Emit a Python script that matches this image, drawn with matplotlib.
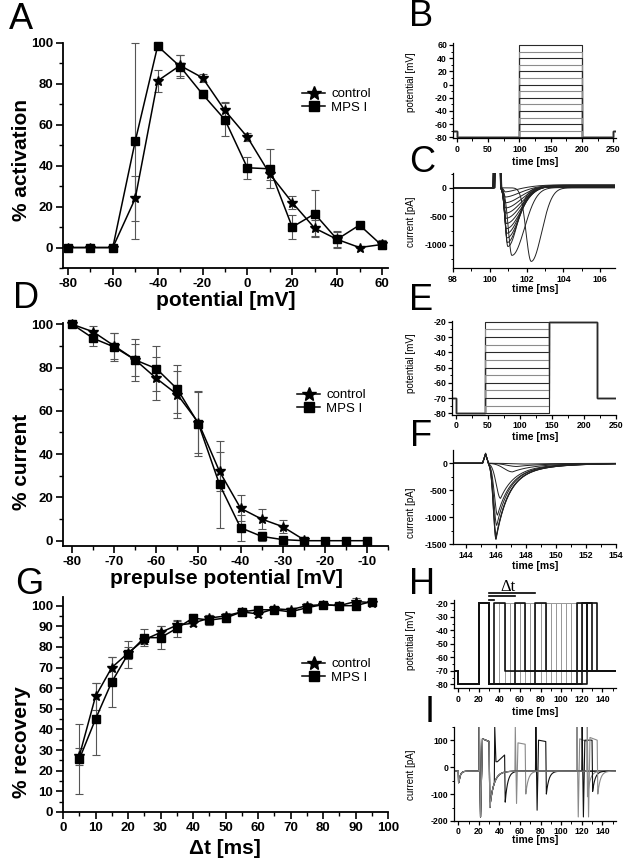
import numpy as np
import matplotlib
matplotlib.use('Agg')
import matplotlib.pyplot as plt
from matplotlib.ticker import MultipleLocator

plt.rcParams['font.family'] = ['Liberation Sans', 'DejaVu Sans']
plt.rcParams['font.weight'] = 'bold'
plt.rcParams['axes.unicode_minus'] = False

# ---------------- data: panel A (activation) ----------------
A_v = [-80, -70, -60, -50, -40, -30, -20, -10, 0, 10, 20, 30, 40, 50, 60]
A_ctrl = [0, 0, 0, 24, 81.5, 89, 83, 67, 54, 36, 22, 9.5, 4, 0, 1.5]
A_ctrl_err = [0, 0, 0, 11, 5.5, 5, 2, 4, 2, 3, 3, 4, 3.5, 0, 2]
A_mps = [0, 0, 0, 52, 98.5, 88.5, 75, 62.5, 39, 38.5, 10, 16.5, 4, 11, 1]
A_mps_err = [0, 0, 0, 48, 0, 5.5, 2, 8, 5.5, 9.5, 6, 11.5, 4, 0, 1]

# ---------------- data: panel D (inactivation) ----------------
D_v_ctrl = [-80, -75, -70, -65, -60, -55, -50, -45, -40, -35, -30, -25]
D_ctrl = [100, 96.5, 90, 83.5, 75, 67.5, 54.5, 32, 15, 10, 6.5, 0.5]
D_ctrl_err = [0, 2.5, 6, 9.5, 10, 11, 14, 9, 6, 4.5, 3, 1]
D_v_mps = [-80, -75, -70, -65, -60, -55, -50, -45, -40, -35, -30, -25, -20, -15, -10]
D_mps = [100, 93.5, 89.5, 83.5, 79.5, 70, 54, 26, 6, 2, 0.5, 0, 0, 0, 0]
D_mps_err = [0, 3.5, 6.5, 7.5, 10.5, 11, 15, 20, 6, 2, 1, 0, 0, 0, 0]

# ---------------- data: panel G (recovery) ----------------
G_t = [5, 10, 15, 20, 25, 30, 35, 40, 45, 50, 55, 60, 65, 70, 75, 80, 85, 90, 95]
G_ctrl = [27, 56, 70, 77, 83.5, 87, 90.5, 91.5, 94, 95, 97, 96, 98.5, 98, 100, 100.5, 100, 102, 101.5]
G_ctrl_err = [4, 6.5, 5, 3, 2, 3, 2, 1.5, 1.5, 1.5, 1, 1.5, 1, 1, 1, 1, 1, 1.5, 1]
G_mps = [25.5, 45, 63, 76.5, 84.5, 84.5, 89, 94, 93, 94, 97, 98, 98, 97, 99, 100.5, 100, 100, 102]
G_mps_err = [17, 17.5, 12, 6.5, 4, 5.5, 4, 2, 2.5, 2, 1, 1.5, 1, 1, 2.5, 1, 1, 1, 1]

# ---------------- protocol B ----------------
B_levels = [60, 50, 40, 30, 20, 10, 0, -10, -20, -30, -40, -50, -60, -70, -80]
B_hold, B_base = -70, -80
B_times = [0, 100, 200, 250]

# ---------------- currents C ----------------
C_onset = [101.45, 100.65, 100.6, 100.6, 100.6, 100.6, 100.6, 100.6, 100.6, 100.6, 100.6, 100.6, 100.6, 100.6]
C_peak_t = [102.25, 101.2, 100.98, 100.95, 100.93, 100.92, 100.9, 100.9, 100.88, 100.87, 100.86, 100.85, 100.85, 100.85]
C_peak_amp = [-1290, -1185, -1030, -960, -880, -800, -720, -630, -540, -450, -360, -270, -170, -80]
C_return = [104.0, 103.3, 102.6, 102.8, 103.0, 103.1, 103.3, 103.4, 103.5, 103.6, 103.7, 103.8, 103.9, 104.0]
C_late = [0, 4, 8, 12, 16, 20, 24, 28, 32, 36, 40, 44, 48, 52]

# ---------------- protocol E ----------------
E_levels = [-20, -25, -30, -35, -40, -45, -50, -55, -60, -65, -70, -75, -80]
E_times = [0, 45, 145, 220]
E_hold, E_base, E_test = -70, -80, -20

# ---------------- currents F ----------------
F_peak_t = [146.0, 146.0, 146.02, 146.05, 146.1, 146.3, 147.1, 147.4, 148.0]
F_peak_amp = [-1410, -1385, -1340, -1150, -960, -650, -160, -60, -15]
F_tau = [0.8, 0.8, 0.8, 0.8, 0.85, 0.9, 1.3, 1.6, 2.0]

# ---------------- protocol H ----------------
H_dt = [5, 10, 15, 20, 25, 30, 35, 40, 45, 50, 55, 60, 65, 70, 75, 80, 85, 90, 95]
H_dark = [5, 25, 45, 85, 90, 95]
H_hold, H_base, H_step = -70, -80, -20
H_pre = [20, 30]
H_test_len = 10

# ---------------- currents I ----------------
I_dt = [5, 25, 45, 85, 90, 95]
I_on_dip = [20, -135, -160, -185, -185, -185]
I_plat0 = [20, 90, 100, 105, 100, 110]
I_plat1 = [45, 85, 95, 95, 100, 100]
I_off = [-130, -100, -100, -110, -90, -100]
I_base = -15

W, H = 629, 868
fig = plt.figure(figsize=(W / 100, H / 100), dpi=100)


def add_ax(l, t, r, b):
    return fig.add_axes([l / W, 1 - b / H, (r - l) / W, (b - t) / H])


def ftext(x, y, s, **kw):
    fig.text(x / W, 1 - y / H, s, **kw)


def style_main(ax):
    for s in ['top', 'right']:
        ax.spines[s].set_visible(False)
    for s in ['left', 'bottom']:
        ax.spines[s].set_linewidth(1.3)
    ax.tick_params(which='major', direction='out', length=5, width=1.2, labelsize=9.5, pad=2)
    ax.tick_params(which='minor', direction='out', length=3, width=1.0)


def style_small(ax):
    for s in ['top', 'right']:
        ax.spines[s].set_visible(False)
    for s in ['left', 'bottom']:
        ax.spines[s].set_linewidth(0.9)
    ax.tick_params(which='major', direction='out', length=3, width=0.9, labelsize=6.3, pad=1.5)
    ax.tick_params(which='minor', direction='out', length=1.8, width=0.7)


def main_plot(ax, xc, yc, ec, xm, ym, em):
    ax.errorbar(xc, yc, yerr=ec, fmt='none', ecolor='#555555', elinewidth=0.8,
                capsize=3, capthick=0.8, zorder=1, clip_on=False)
    ax.errorbar(xm, ym, yerr=em, fmt='none', ecolor='#555555', elinewidth=0.8,
                capsize=3, capthick=0.8, zorder=1, clip_on=False)
    lc, = ax.plot(xc, yc, '-', color='k', lw=1.1, marker='*', ms=7.5, zorder=3, clip_on=False)
    lm, = ax.plot(xm, ym, '-', color='k', lw=1.1, marker='s', ms=5.2, zorder=4, clip_on=False)
    return lc, lm


def legend(ax, lc, lm, x, y):
    ax.legend([lc, lm], ['control', 'MPS I'], loc='upper left',
              bbox_to_anchor=(x / W, 1 - y / H), bbox_transform=fig.transFigure,
              frameon=False, borderpad=0, borderaxespad=0, handlelength=1.75,
              handletextpad=0.45, labelspacing=0.1, markerscale=1.4,
              prop={'weight': 'normal', 'size': 9.5})


# ================= Panel A =================
axA = add_ax(63, 43, 388, 268)
style_main(axA)
lc, lm = main_plot(axA, A_v, A_ctrl, A_ctrl_err, A_v, A_mps, A_mps_err)
axA.set_xlim(-82.2, 62.7)
axA.set_ylim(-10, 100)
axA.xaxis.set_major_locator(MultipleLocator(20))
axA.xaxis.set_minor_locator(MultipleLocator(10))
axA.yaxis.set_major_locator(MultipleLocator(20))
axA.yaxis.set_minor_locator(MultipleLocator(10))
legend(axA, lc, lm, 302, 88)
ftext(226, 300, 'potential [mV]', fontsize=15, ha='center', va='center')
ftext(22, 160, '% activation', fontsize=15, ha='center', va='center', rotation=90)

# ================= Panel D =================
axD = add_ax(63, 323, 388, 546)
style_main(axD)
lc, lm = main_plot(axD, D_v_ctrl, D_ctrl, D_ctrl_err, D_v_mps, D_mps, D_mps_err)
axD.set_xlim(-82.2, -4.96)
axD.set_ylim(-2.45, 100.6)
axD.xaxis.set_major_locator(MultipleLocator(10))
axD.xaxis.set_minor_locator(MultipleLocator(5))
axD.yaxis.set_major_locator(MultipleLocator(20))
axD.yaxis.set_minor_locator(MultipleLocator(10))
legend(axD, lc, lm, 297, 389)
ftext(226, 579, 'prepulse potential [mV]', fontsize=15, ha='center', va='center')
ftext(22, 462, '% current', fontsize=15, ha='center', va='center', rotation=90)

# ================= Panel G =================
axG = add_ax(63, 597, 388, 812)
style_main(axG)
lc, lm = main_plot(axG, G_t, G_ctrl, G_ctrl_err, G_t, G_mps, G_mps_err)
axG.set_xlim(0, 100)
axG.set_ylim(0, 104.2)
axG.xaxis.set_major_locator(MultipleLocator(10))
axG.xaxis.set_minor_locator(MultipleLocator(5))
axG.yaxis.set_major_locator(MultipleLocator(10))
axG.yaxis.set_minor_locator(MultipleLocator(5))
legend(axG, lc, lm, 302, 658)
ftext(225, 848, '\u0394t [ms]', fontsize=15, ha='center', va='center')
ftext(22, 742, '% recovery', fontsize=15, ha='center', va='center', rotation=90)

cols = ['#2a2a2a', '#8c8c8c']
YLX = 411  # x position of small-panel y labels

# ================= Panel B =================
axB = add_ax(453.3, 43.3, 615.7, 138.3)
style_small(axB)
xl0, xl1 = -5.3, 253.8
for i, lv in enumerate(B_levels):
    t0, t1, t2, t3 = B_times
    xs = [xl0, t0, t0, t1, t1, t2, t2, t3, t3, xl1]
    ys = [B_hold, B_hold, B_base, B_base, lv, lv, B_base, B_base, B_hold, B_hold]
    axB.plot(xs, ys, color=cols[i % 2], lw=0.8)
axB.set_xlim(xl0, xl1)
axB.set_ylim(-81.5, 62.5)
axB.xaxis.set_major_locator(MultipleLocator(50))
axB.xaxis.set_minor_locator(MultipleLocator(25))
axB.yaxis.set_major_locator(MultipleLocator(20))
axB.yaxis.set_minor_locator(MultipleLocator(10))
ftext(535, 162, 'time [ms]', fontsize=7.5, ha='center', va='center')
ftext(YLX, 82, 'potential [mV]', fontsize=7, ha='center', va='center', rotation=90, weight='normal')

# ================= Panel C =================
axC = add_ax(453, 173, 615, 268.3)
style_small(axC)
tC = np.linspace(98, 107, 2701)
for i in range(len(C_peak_t)):
    tp, amp, on, ret = C_peak_t[i], C_peak_amp[i], C_onset[i], C_return[i]
    sr = (tp - on) / 2.0
    sd = (ret - tp) / 2.2
    y = np.where(tC < tp, amp * np.exp(-((tC - tp) / sr) ** 2), amp * np.exp(-((tC - tp) / sd) ** 2))
    y = y + C_late[i] / (1 + np.exp(-(tC - (tp + 0.4)) / 0.25))
    a0 = 100.15 + 0.01 * i
    a1 = 100.58 + 0.005 * i
    art = np.clip(np.minimum((tC - a0) / 0.05, (a1 - tC) / 0.05), 0, 1) * 600
    y = y + art
    axC.plot(tC, y, color='#222222', lw=0.7)
axC.set_xlim(98, 106.8)
axC.set_ylim(-1411, 260)
axC.xaxis.set_major_locator(MultipleLocator(2))
axC.xaxis.set_minor_locator(MultipleLocator(1))
axC.yaxis.set_major_locator(MultipleLocator(500))
axC.yaxis.set_minor_locator(MultipleLocator(250))
ftext(535, 289, 'time [ms]', fontsize=7.5, ha='center', va='center')
ftext(YLX, 222, 'current [pA]', fontsize=7, ha='center', va='center', rotation=90, weight='normal')

# ================= Panel E =================
axE = add_ax(452.3, 321, 615.7, 415)
style_small(axE)
xl0, xl1 = -5.8, 250
for i, lv in enumerate(E_levels):
    t0, t1, t2, t3 = E_times
    xs = [xl0, t0, t0, t1, t1, t2, t2, t3, t3, xl1]
    ys = [E_hold, E_hold, E_base, E_base, lv, lv, E_test, E_test, E_hold, E_hold]
    axE.plot(xs, ys, color=cols[i % 2], lw=0.8)
axE.set_xlim(xl0, xl1)
axE.set_ylim(-81.1, -19.5)
axE.xaxis.set_major_locator(MultipleLocator(50))
axE.xaxis.set_minor_locator(MultipleLocator(25))
axE.yaxis.set_major_locator(MultipleLocator(10))
axE.yaxis.set_minor_locator(MultipleLocator(5))
ftext(535, 437, 'time [ms]', fontsize=7.5, ha='center', va='center')
ftext(YLX, 363, 'potential [mV]', fontsize=7, ha='center', va='center', rotation=90, weight='normal')

# ================= Panel F =================
axF = add_ax(453.3, 450, 616, 544.3)
style_small(axF)
tF = np.linspace(143.15, 154, 3001)
for i in range(len(F_peak_t)):
    tp, amp, tau = F_peak_t[i], F_peak_amp[i], F_tau[i]
    sr = (tp - 145.5) / 2.0
    dtp = tF - tp
    y = np.where(tF < tp, amp * np.exp(-(dtp / sr) ** 2),
                 amp * (0.8 * np.exp(-np.clip(dtp, 0, None) / tau) + 0.2 * np.exp(-np.clip(dtp, 0, None) / (3 * tau))))
    art = np.clip(np.minimum((tF - 145.1) / 0.2, (145.5 - tF) / 0.2), 0, 1) * (190 - 4 * i)
    y = y + art
    axF.plot(tF, y, color='#222222', lw=0.7)
axF.set_xlim(143.15, 154)
axF.set_ylim(-1500, 245)
axF.xaxis.set_major_locator(MultipleLocator(2))
axF.xaxis.set_minor_locator(MultipleLocator(1))
axF.yaxis.set_major_locator(MultipleLocator(500))
axF.yaxis.set_minor_locator(MultipleLocator(250))
ftext(535, 566, 'time [ms]', fontsize=7.5, ha='center', va='center')
ftext(YLX, 513, 'current [pA]', fontsize=7, ha='center', va='center', rotation=90, weight='normal')

# ================= Panel H =================
axH = add_ax(454.3, 600, 615.7, 688.3)
style_small(axH)
xl0, xl1 = -3.9, 153
order = [d for d in H_dt if d not in H_dark] + H_dark
for d in order:
    p0, p1 = H_pre
    ta = p1 + d
    tb = ta + H_test_len
    xs = [xl0, 0, 0, p0, p0, p1, p1, ta, ta, tb, tb, xl1]
    ys = [H_hold, H_hold, H_base, H_base, H_step, H_step, H_base, H_base, H_step, H_step, H_hold, H_hold]
    dark = d in H_dark
    axH.plot(xs, ys, color='#111111' if dark else '#9a9a9a', lw=1.2 if dark else 0.7)
axH.set_xlim(xl0, xl1)
axH.set_ylim(-83, -17.5)
axH.xaxis.set_major_locator(MultipleLocator(20))
axH.xaxis.set_minor_locator(MultipleLocator(10))
axH.yaxis.set_major_locator(MultipleLocator(10))
axH.yaxis.set_minor_locator(MultipleLocator(5))
# delta-t annotation
for x_end, yv in [(75, -12.6), (55, -14.4), (35, -17.6)]:
    axH.plot([H_pre[1], x_end], [yv, yv], color='k', lw=1.2, clip_on=False)
ftext(508, 587, '\u0394t', fontsize=12, ha='center', va='center',
      family=['Liberation Serif', 'DejaVu Serif'], weight='normal')
ftext(535, 712, 'time [ms]', fontsize=7.5, ha='center', va='center')
ftext(YLX, 640, 'potential [mV]', fontsize=7, ha='center', va='center', rotation=90, weight='normal')

# ================= Panel I =================
axI = add_ax(454.3, 726.7, 615.7, 821)
style_small(axI)
for i, d in enumerate(I_dt):
    ts, ys = [], []
    t0 = np.linspace(-4, 20, 500)
    y0 = np.where(t0 >= 0, I_base - 60 * np.exp(-np.clip(t0, 0, None) / 1.5) * (1 - np.exp(-np.clip(t0, 0, None) / 0.15)), I_base)
    ts += list(t0); ys += list(y0)
    ts += [20.0, 20.4, 21.6, 23.5, 30.0, 30.6]
    ys += [I_base, 150, -185, 105, 95, -150]
    ta = 30 + d
    t1 = np.linspace(30.6, ta, 200)
    y1 = I_base + (-150 - I_base) * np.exp(-(t1 - 30.6) / 4.0)
    ts += list(t1); ys += list(y1)
    tb = ta + 10
    ts += [ta + 0.4, ta + 1.6, ta + 3.0, tb, tb + 0.6]
    ys += [150, I_on_dip[i], I_plat0[i], I_plat1[i], I_off[i]]
    t2 = np.linspace(tb + 0.6, 153, 300)
    y2 = I_base + (I_off[i] - I_base) * np.exp(-(t2 - tb - 0.6) / 2.5)
    ts += list(t2); ys += list(y2)
    axI.plot(ts, ys, color='#111111' if i % 2 == 0 else '#8a8a8a', lw=0.8)
axI.set_xlim(-3.9, 153)
axI.set_ylim(-200, 150)
axI.xaxis.set_major_locator(MultipleLocator(20))
axI.xaxis.set_minor_locator(MultipleLocator(10))
axI.yaxis.set_major_locator(MultipleLocator(100))
axI.yaxis.set_minor_locator(MultipleLocator(50))
ftext(535, 840, 'time [ms]', fontsize=7.5, ha='center', va='center')
ftext(YLX, 775, 'current [pA]', fontsize=7, ha='center', va='center', rotation=90, weight='normal')

# ================= Panel letters =================
for s, x, y in [('A', 20.5, 19.5), ('B', 421, 17), ('C', 422, 163), ('D', 26, 298),
                ('E', 421, 300), ('F', 421, 437), ('G', 29, 584), ('H', 422, 584), ('I', 430, 712)]:
    ftext(x, y, s, fontsize=26, ha='center', va='center', weight='normal')

fig.savefig('out.png', dpi=100)
